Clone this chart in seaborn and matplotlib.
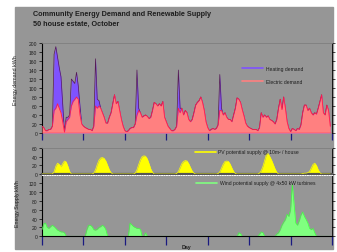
import numpy as np
import pandas as pd
import matplotlib
matplotlib.use("Agg")
import matplotlib.pyplot as plt
from matplotlib.patches import Rectangle
from matplotlib.lines import Line2D
import seaborn as sns

# Hourly values, one list per day (7 days, 24 h each)
electric_days = [
    [15, 12, 5, 5, 8, 8, 15, 50, 55, 65, 55, 45, 25, 2, 25, 30, 35, 60, 70, 75, 80, 75, 40, 20],
    [15, 12, 10, 8, 8, 5, 15, 60, 55, 60, 55, 45, 35, 22, 22, 35, 45, 65, 85, 65, 70, 50, 30, 15],
    [5, 3, 5, 10, 12, 12, 20, 40, 50, 45, 35, 38, 40, 37, 32, 35, 50, 68, 65, 60, 65, 60, 70, 35],
    [25, 15, 10, 5, 5, 8, 15, 55, 45, 55, 40, 50, 45, 30, 25, 30, 45, 62, 68, 72, 80, 68, 50, 25],
    [12, 5, 8, 10, 8, 10, 18, 50, 50, 40, 45, 35, 30, 30, 25, 40, 55, 78, 75, 68, 52, 38, 22, 15],
    [12, 10, 8, 8, 8, 5, 12, 45, 35, 40, 35, 38, 30, 28, 25, 20, 30, 55, 75, 52, 80, 55, 25, 10],
    [3, 10, 8, 5, 10, 8, 18, 45, 62, 62, 50, 55, 45, 40, 45, 42, 55, 70, 85, 45, 40, 62, 50, 15],
]
heating_days = [
    [0, 0, 0, 0, 0, 0, 0, 125, 137, 103, 90, 80, 40, 0, 10, 5, 5, 60, 45, 35, 55, 30, 20, 0],
    [0, 0, 0, 0, 0, 0, 0, 105, 20, 12, 0, 0, 0, 0, 0, 0, 0, 0, 0, 0, 0, 0, 0, 0],
    [0, 0, 0, 0, 0, 0, 0, 100, 5, 0, 0, 0, 0, 0, 0, 0, 0, 0, 0, 0, 0, 0, 0, 0],
    [0, 0, 0, 0, 0, 0, 0, 85, 10, 0, 0, 0, 0, 0, 0, 0, 0, 0, 0, 0, 0, 0, 0, 0],
    [0, 0, 0, 0, 0, 0, 0, 80, 5, 0, 0, 0, 0, 0, 0, 0, 0, 0, 0, 0, 0, 0, 0, 0],
    [0] * 24,
    [0] * 24,
]
pv_days = [
    [0, 0, 0, 0, 0, 0, 0, 5, 18, 25, 22, 17, 24, 30, 28, 18, 6, 0, 0, 0, 0, 0, 0, 0],
    [0, 0, 0, 0, 0, 0, 2, 10, 22, 32, 37, 38, 36, 30, 20, 10, 3, 0, 0, 0, 0, 0, 0, 0],
    [0, 0, 0, 0, 0, 0, 2, 10, 22, 33, 40, 42, 41, 35, 24, 12, 4, 0, 0, 0, 0, 0, 0, 0],
    [0, 0, 0, 0, 0, 0, 1, 6, 15, 24, 29, 31, 30, 24, 15, 7, 2, 0, 0, 0, 0, 0, 0, 0],
    [0, 0, 0, 0, 0, 0, 1, 5, 14, 23, 29, 30, 29, 23, 14, 6, 1, 0, 0, 0, 0, 0, 0, 0],
    [0, 0, 0, 0, 0, 0, 2, 8, 18, 32, 45, 47, 40, 32, 22, 12, 4, 0, 0, 0, 0, 0, 0, 0],
    [0, 0, 0, 0, 0, 0, 0, 1, 2, 2, 3, 6, 14, 22, 25, 20, 10, 3, 0, 0, 0, 0, 0, 0],
]
wind_days = [
    [15, 28, 30, 20, 18, 22, 25, 22, 18, 14, 12, 10, 10, 8, 0, 0, 0, 0, 0, 0, 0, 0, 0, 0],
    [0, 0, 15, 25, 25, 22, 15, 14, 16, 20, 22, 25, 22, 15, 0, 0, 0, 0, 0, 0, 0, 0, 0, 0],
    [0, 0, 0, 30, 26, 22, 20, 18, 18, 16, 0, 0, 8, 0, 0, 0, 0, 0, 0, 0, 0, 0, 0, 0],
    [0] * 24,
    [0, 0, 0, 0, 0, 0, 0, 0, 0, 0, 0, 0, 0, 0, 0, 0, 0, 0, 8, 6, 0, 0, 0, 0],
    [0, 0, 0, 0, 0, 0, 5, 10, 8, 0, 0, 0, 0, 0, 0, 0, 5, 8, 15, 25, 32, 38, 50, 45],
    [60, 118, 75, 30, 25, 35, 48, 55, 45, 38, 30, 18, 15, 18, 8, 0, 0, 0, 0, 0, 0, 0, 0, 0],
]

df = pd.DataFrame({
    "electric": np.concatenate(electric_days),
    "heating": np.concatenate(heating_days),
    "pv": np.concatenate(pv_days),
    "wind": np.concatenate(wind_days),
})
df["day"] = np.arange(len(df)) / 24.0
df["total"] = df["electric"] + df["heating"]

# colours
bg = "#969696"
heat_col = "#7f52ff"
elec_col = "#ff8080"
pv_col = "#ffff00"
wind_col = "#80ff80"
navy = "#1a1a80"
txt = "#1e1e1e"

sns.set_style("white")
plt.rcParams["font.family"] = ["Liberation Sans", "DejaVu Sans"]

fig = plt.figure(figsize=(3.37, 2.53), dpi=100)
fig.patch.set_facecolor("white")
W, H = 337.0, 253.0
fig.patches.append(Rectangle((15 / W, 1 - 250 / H), (333 - 15) / W, (250 - 8) / H,
                             transform=fig.transFigure, color=bg, zorder=-10))

left, width = 42 / W, 290 / W
ax1 = fig.add_axes([left, 1 - 134 / H, width, 90 / H])
ax2 = fig.add_axes([left, 1 - 175 / H, width, 26 / H])
ax3 = fig.add_axes([left, 1 - 237.3 / H, width, 61.8 / H])

for ax in (ax1, ax2, ax3):
    ax.set_facecolor(bg)
    ax.set_xlim(0, 7)
    ax.set_xticks(range(8))
    ax.set_xticklabels([])
    ax.set_xlabel("")
    ax.set_ylabel("")
    ax.tick_params(axis="y", which="both", left=True, right=True, labelleft=True,
                   labelright=False, direction="out", length=2, width=0.5,
                   color="black", labelsize=3.6, labelcolor=txt, pad=1.5)
    ax.spines["left"].set_color("black")
    ax.spines["left"].set_linewidth(0.8)
    ax.spines["right"].set_color("black")
    ax.spines["right"].set_linewidth(0.6)
    ax.spines["top"].set_color("#7f7f7f")
    ax.spines["top"].set_linewidth(0.6)

# demand panel: total (heating on top) behind electric
ax1.fill_between(df["day"], 0, df["total"], color=heat_col, lw=0, zorder=2)
sns.lineplot(data=df, x="day", y="total", ax=ax1, color="#551a55", lw=0.5, zorder=3)
ax1.fill_between(df["day"], 0, df["electric"], color=elec_col, lw=0, zorder=4)
sns.lineplot(data=df, x="day", y="electric", ax=ax1, color="#ff1a4d", lw=0.6, zorder=5)
ax1.axhline(0, color="#ff1a4d", lw=1.0, zorder=6)
ax1.set_ylim(0, 200)
ax1.set_yticks(range(0, 201, 20))
ax1.spines["bottom"].set_visible(False)
ax1.tick_params(axis="x", bottom=True, direction="out", length=5, width=0.9, color=navy)
ax1.set_xlabel("")
ax1.set_ylabel("")
ax1.legend(handles=[Line2D([], [], color=heat_col, lw=1.2), Line2D([], [], color=elec_col, lw=1.2)],
           labels=["Heating demand", "Electric demand"], loc="center left",
           bbox_to_anchor=(242 / W, 1 - 76 / H), bbox_transform=fig.transFigure,
           frameon=False, fontsize=3.6, handlelength=4.2, handletextpad=0.5,
           labelspacing=1.6, borderpad=0, borderaxespad=0, labelcolor=txt)

# PV panel
ax2.fill_between(df["day"], 0, df["pv"], color=pv_col, lw=0, zorder=2)
sns.lineplot(data=df, x="day", y="pv", ax=ax2, color=pv_col, lw=0.5, zorder=3)
ax2.set_ylim(0, 60)
ax2.set_yticks([0, 20, 40, 60])
ax2.spines["bottom"].set_color("#555555")
ax2.spines["bottom"].set_linewidth(1.6)
ax2.tick_params(axis="x", bottom=False)
ax2.set_xlabel("")
ax2.set_ylabel("")
ax2.legend(handles=[Line2D([], [], color=pv_col, lw=1.2)],
           labels=["PV potential supply @ 10m\u00b2 / house"], loc="center left",
           bbox_to_anchor=(195 / W, 1 - 153 / H), bbox_transform=fig.transFigure,
           frameon=False, fontsize=3.6, handlelength=4.2, handletextpad=0.5,
           borderpad=0, borderaxespad=0, labelcolor=txt)

# wind panel
ax3.fill_between(df["day"], 0, df["wind"], color=wind_col, lw=0, zorder=2)
sns.lineplot(data=df, x="day", y="wind", ax=ax3, color="#40ff40", lw=0.5, zorder=3)
ax3.set_ylim(0, 140)
ax3.set_yticks(range(0, 121, 20))
ax3.spines["top"].set_color("white")
ax3.spines["top"].set_linestyle((0, (1, 1.5)))
ax3.spines["top"].set_linewidth(0.7)
ax3.spines["bottom"].set_color("black")
ax3.spines["bottom"].set_linewidth(0.8)
ax3.tick_params(axis="x", bottom=True, direction="out", length=6.5, width=0.9, color=navy)
ax3.set_xlabel("")
ax3.set_ylabel("")
ax3.legend(handles=[Line2D([], [], color=wind_col, lw=1.2)],
           labels=["Wind potential supply @ 4x50 kW turbines"], loc="center left",
           bbox_to_anchor=(196 / W, 1 - 184 / H), bbox_transform=fig.transFigure,
           frameon=False, fontsize=3.6, handlelength=4.2, handletextpad=0.5,
           borderpad=0, borderaxespad=0, labelcolor=txt)

# titles and axis labels
fig.text(33 / W, 1 - 14 / H, "Community Energy Demand and Renewable Supply",
         fontsize=5.2, fontweight="bold", color=txt, va="center")
fig.text(33 / W, 1 - 24 / H, "50 house estate, October",
         fontsize=5.2, fontweight="bold", color=txt, va="center")
fig.text(16 / W, 1 - 80 / H, "Energy demand kWh", rotation=90, fontsize=3.8,
         color=txt, va="center", ha="center")
fig.text(17 / W, 1 - 204 / H, "Energy Supply kWh", rotation=90, fontsize=3.8,
         color=txt, va="center", ha="center")
fig.text(186 / W, 1 - 248 / H, "Day", fontsize=3.8, fontweight="bold",
         color=txt, va="center", ha="center")

fig.savefig("out.png", dpi=100)
